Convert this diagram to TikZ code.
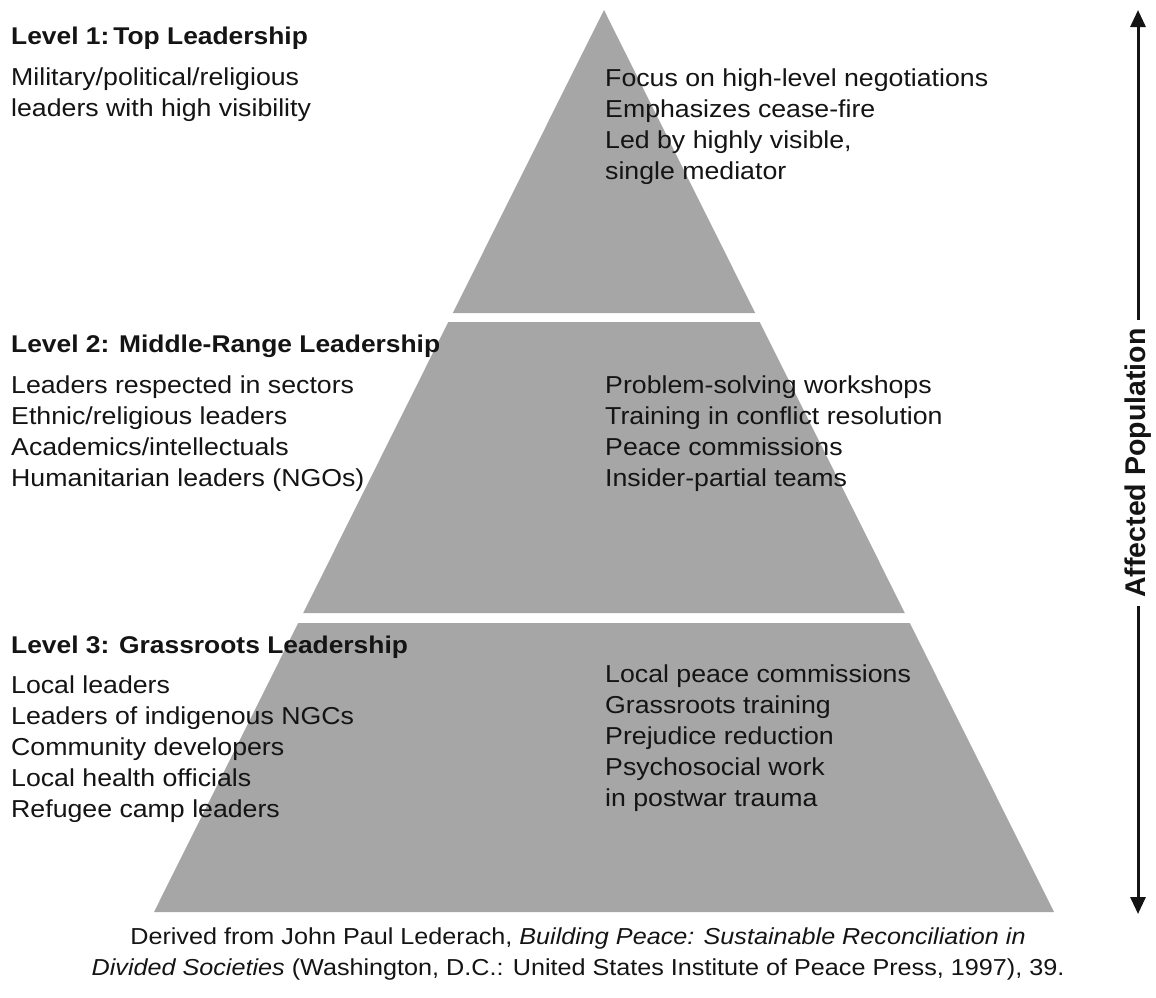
\documentclass[tikz,border=0pt]{standalone}
\usepackage{fontspec}
\setmainfont{Liberation Sans}[FakeStretch=1.09]
\newfontfamily\rotfont{Liberation Sans}
\usetikzlibrary{arrows.meta}
\definecolor{pyr}{RGB}{166,166,166}
\definecolor{ink}{RGB}{20,20,20}
\begin{document}
\begin{tikzpicture}[x=1pt,y=-1pt,
  body/.style={anchor=base west, inner sep=0pt, font=\fontsize{24.5}{31}\selectfont, text=ink},
  head/.style={anchor=base west, inner sep=0pt, font=\fontsize{24.2}{31}\selectfont\bfseries, text=ink},
  captxt/.style={anchor=base, inner sep=0pt, font=\fontsize{23.1}{31}\selectfont, text=ink},
  tier/.style={fill=pyr, draw=none}]
\useasboundingbox[fill=white] (0,0) rectangle (1156,997);
% pyramid tiers
\fill[tier] (604,10) -- (755.2,313) -- (452.8,313) -- cycle;
\fill[tier] (448.3,322) -- (759.7,322) -- (904.8,613) -- (303.2,613) -- cycle;
\fill[tier] (298.2,623) -- (909.8,623) -- (1054,912) -- (154,912) -- cycle;
% Level 1
\node[head] (h1) at (11,44) {Level 1:\,Top Leadership};
\node[body] (l1a) at (11,85) {Military/political/religious};
\node[body] (l1b) at (11,116) {leaders with high visibility};
\node[body] (r1a) at (605,86) {Focus on high-level negotiations};
\node[body] (r1b) at (605,117) {Emphasizes cease-fire};
\node[body] (r1c) at (605,148) {Led by highly visible,};
\node[body] (r1d) at (605,179) {single mediator};
% Level 2
\node[head] (h2) at (11,352) {Level 2: Middle-Range Leadership};
\node[body] (l2a) at (11,393) {Leaders respected in sectors};
\node[body] (l2b) at (11,424) {Ethnic/religious leaders};
\node[body] (l2c) at (11,455) {Academics/intellectuals};
\node[body] (l2d) at (11,486) {Humanitarian leaders (NGOs)};
\node[body] (r2a) at (605,393) {Problem-solving workshops};
\node[body] (r2b) at (605,424) {Training in conflict resolution};
\node[body] (r2c) at (605,455) {Peace commissions};
\node[body] (r2d) at (605,486) {Insider-partial teams};
% Level 3
\node[head] (h3) at (11,653) {Level 3: Grassroots Leadership};
\node[body] (l3a) at (11,693) {Local leaders};
\node[body] (l3b) at (11,724) {Leaders of indigenous NGCs};
\node[body] (l3c) at (11,755) {Community developers};
\node[body] (l3d) at (11,786) {Local health officials};
\node[body] (l3e) at (11,817) {Refugee camp leaders};
\node[body] (r3a) at (605,682) {Local peace commissions};
\node[body] (r3b) at (605,713) {Grassroots training};
\node[body] (r3c) at (605,744) {Prejudice reduction};
\node[body] (r3d) at (605,775) {Psychosocial work};
\node[body] (r3e) at (605,806) {in postwar trauma};
% caption
\node[captxt] (c1) at (578,944) {Derived from John Paul Lederach, \textit{Building Peace: Sustainable Reconciliation in}};
\node[captxt] (c2) at (578,975) {\textit{Divided Societies} (Washington, D.C.: United States Institute of Peace Press, 1997), 39.};
% affected population arrow
\node[rotate=90, fill=white, inner xsep=8pt, inner ysep=2pt, text=ink,
      font=\rotfont\fontsize{28.5}{28.5}\selectfont\bfseries] (ap) at (1138,463) {Affected Population};
\coordinate (atop) at (1138,10);
\coordinate (abot) at (1138,914);
\draw[ink, line width=3pt, -{Triangle[length=17pt,width=15pt]}] (ap.east) -- (atop);
\draw[ink, line width=3pt, -{Triangle[length=17pt,width=15pt]}] (ap.west) -- (abot);
\end{tikzpicture}
\end{document}
